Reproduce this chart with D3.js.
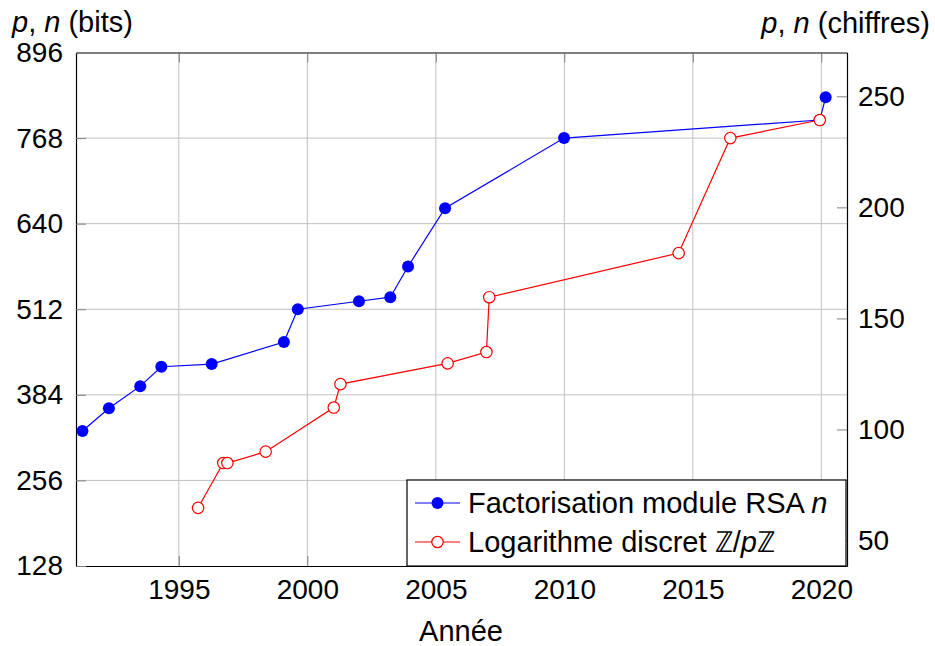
<!DOCTYPE html>
<html>
<head>
<meta charset="utf-8">
<script src="https://cdn.jsdelivr.net/npm/d3@7"></script>
<style>
  body { margin: 0; background: #fff; }
  text { font-family: "Liberation Sans", Arial, sans-serif; fill: #000; }
</style>
</head>
<body>
<svg id="chart" width="935" height="646"></svg>
<script>
// records (year as decimal, size in bits)
var rsaYears = [1991.25, 1992.28, 1993.5, 1994.32, 1996.28, 1999.09, 1999.63, 2002.01, 2003.23, 2003.92, 2005.36, 2009.99, 2019.94, 2020.17];
var rsaBits = [330, 364, 397, 426, 430, 463, 512, 524, 530, 576, 663, 768, 795, 829];
var dlogYears = [1995.75, 1996.73, 1996.89, 1998.38, 2001.03, 2001.29, 2005.46, 2006.97, 2007.08, 2014.45, 2016.46, 2019.94];
var dlogBits = [215, 282, 282, 299, 365, 400, 431, 448, 530, 596, 768, 795];

var yearTicks = [1995, 2000, 2005, 2010, 2015, 2020];
var bitTicks = [128, 256, 384, 512, 640, 768, 896];
var digitTicks = [50, 100, 150, 200, 250];

var seriesNames = ["Factorisation module RSA ", "Logarithme discret "];

var svg = d3.select("#chart");
var plotLeft = 76, plotRight = 847, plotTop = 52.5, plotBottom = 566;
var fontSize = 28;
var titleSize = 29;
var dotR = 6;
var LOG2_10 = Math.log2(10);

var x = d3.scaleLinear().domain([1991, 2021]).range([plotLeft, plotRight]);
var y = d3.scaleLinear().domain([128, 896]).range([plotBottom, plotTop]);
var yDigits = d3.scaleLinear().domain([128 / LOG2_10, 896 / LOG2_10]).range([plotBottom, plotTop]);

var zip = function(xs, ys) {
  return xs.map(function(v, i) { return { year: v, bits: ys[i] }; });
};
var rsa = zip(rsaYears, rsaBits);
var dlog = zip(dlogYears, dlogBits);

// grid
var grid = svg.append("g").attr("class", "grid");
grid.selectAll(".vgrid").data(yearTicks).enter()
  .append("line")
  .attr("x1", function(d) { return x(d); })
  .attr("x2", function(d) { return x(d); })
  .attr("y1", plotTop).attr("y2", plotBottom)
  .attr("stroke", "#c0c0c0").attr("stroke-width", 1);
grid.selectAll(".hgrid").data(bitTicks.slice(1, -1)).enter()
  .append("line")
  .attr("y1", function(d) { return y(d); })
  .attr("y2", function(d) { return y(d); })
  .attr("x1", plotLeft).attr("x2", plotRight)
  .attr("stroke", "#c0c0c0").attr("stroke-width", 1);

// axes, ticks pointing inward
var styleAxis = function(g) {
  g.select(".domain").attr("stroke", "#000").attr("stroke-width", 1.2);
  g.selectAll(".tick line").attr("stroke", "#808080").attr("stroke-width", 1);
  g.selectAll("text").attr("font-size", fontSize).attr("font-family", null);
};

svg.append("g")
  .attr("transform", "translate(0," + plotBottom + ")")
  .call(d3.axisBottom(x).tickValues(yearTicks).tickFormat(d3.format("d")).tickSizeInner(-10).tickSizeOuter(0).tickPadding(13))
  .call(styleAxis);
svg.append("g")
  .attr("transform", "translate(0," + plotTop + ")")
  .call(d3.axisTop(x).tickValues(yearTicks).tickFormat("").tickSizeInner(-10).tickSizeOuter(0))
  .call(styleAxis);
svg.append("g")
  .attr("transform", "translate(" + plotLeft + ",0)")
  .call(d3.axisLeft(y).tickValues(bitTicks).tickSizeInner(-10).tickSizeOuter(0).tickPadding(13))
  .call(styleAxis);
svg.append("g")
  .attr("transform", "translate(" + plotRight + ",0)")
  .call(d3.axisRight(yDigits).tickValues(digitTicks).tickSizeInner(-10).tickSizeOuter(0).tickPadding(11))
  .call(styleAxis);

// series
var line = d3.line()
  .x(function(d) { return x(d.year); })
  .y(function(d) { return y(d.bits); });

svg.append("path").datum(rsa)
  .attr("d", line)
  .attr("fill", "none").attr("stroke", "#0000ff").attr("stroke-width", 1.2);
svg.selectAll(".rsa-dot").data(rsa).enter()
  .append("circle")
  .attr("class", "rsa-dot")
  .attr("cx", function(d) { return x(d.year); })
  .attr("cy", function(d) { return y(d.bits); })
  .attr("r", dotR)
  .attr("fill", "#0000ff");

svg.append("path").datum(dlog)
  .attr("d", line)
  .attr("fill", "none").attr("stroke", "#ff0000").attr("stroke-width", 1.2);
svg.selectAll(".dlog-dot").data(dlog).enter()
  .append("circle")
  .attr("class", "dlog-dot")
  .attr("cx", function(d) { return x(d.year); })
  .attr("cy", function(d) { return y(d.bits); })
  .attr("r", dotR - 0.3)
  .attr("fill", "#fff")
  .attr("stroke", "#ff0000").attr("stroke-width", 1.2);

// axis titles
var leftTitle = svg.append("text")
  .attr("x", 12).attr("y", 32)
  .attr("font-size", titleSize);
leftTitle.append("tspan").attr("font-style", "italic").text("p");
leftTitle.append("tspan").text(", ");
leftTitle.append("tspan").attr("font-style", "italic").text("n");
leftTitle.append("tspan").text(" (bits)");

var rightTitle = svg.append("text")
  .attr("x", 930).attr("y", 33)
  .attr("text-anchor", "end")
  .attr("font-size", titleSize);
rightTitle.append("tspan").attr("font-style", "italic").text("p");
rightTitle.append("tspan").text(", ");
rightTitle.append("tspan").attr("font-style", "italic").text("n");
rightTitle.append("tspan").text(" (chiffres)");

svg.append("text")
  .attr("x", 461).attr("y", 641)
  .attr("text-anchor", "middle")
  .attr("font-size", titleSize)
  .text("Année");

// legend
var legend = svg.append("g").attr("class", "legend");
legend.append("rect")
  .attr("x", 407).attr("y", 480)
  .attr("width", 439).attr("height", 86)
  .attr("fill", "#fff").attr("stroke", "#000").attr("stroke-width", 1.2);

var entries = [
  { name: seriesNames[0], color: "#0000ff", filled: true, y: 503 },
  { name: seriesNames[1], color: "#ff0000", filled: false, y: 542 }
];
var item = legend.selectAll(".item").data(entries).enter()
  .append("g")
  .attr("class", "item")
  .attr("transform", function(d) { return "translate(0," + d.y + ")"; });
item.append("line")
  .attr("x1", 415).attr("x2", 460)
  .attr("stroke", function(d) { return d.color; })
  .attr("stroke-width", 1.2);
item.append("circle")
  .attr("cx", 437.5).attr("r", function(d) { return d.filled ? dotR : dotR - 0.3; })
  .attr("fill", function(d) { return d.filled ? d.color : "#fff"; })
  .attr("stroke", function(d) { return d.filled ? "none" : d.color; })
  .attr("stroke-width", 1.2);
var labels = item.append("text")
  .attr("x", 468).attr("dy", "0.35em")
  .attr("font-size", titleSize);
labels.append("tspan").text(function(d) { return d.name; });
labels.filter(function(d, i) { return i === 0; })
  .append("tspan").attr("font-style", "italic").text("n");
labels.filter(function(d, i) { return i === 1; })
  .each(function() {
    var t = d3.select(this);
    t.append("tspan").text("\u2124/");
    t.append("tspan").attr("font-style", "italic").text("p");
    t.append("tspan").text("\u2124");
  });
</script>
</body>
</html>
